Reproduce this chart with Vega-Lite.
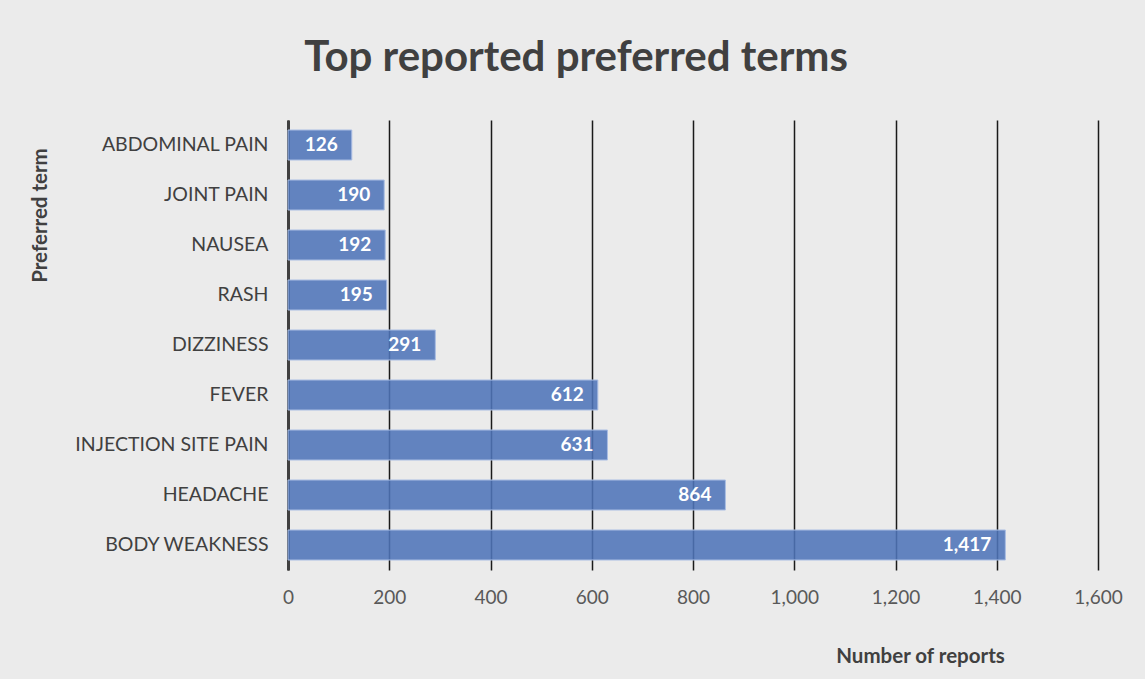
{
  "$schema": "https://vega.github.io/schema/vega-lite/v6.json",
  "autosize": {"type": "none"},
  "padding": {"left": 288, "top": 120, "right": 47, "bottom": 109},
  "width": 810,
  "height": 450,
  "background": "#ebebeb",
  "title": {
    "text": "Top reported preferred terms",
    "font": "Lato",
    "fontSize": 42,
    "fontWeight": "bold",
    "color": "#404040",
    "anchor": "middle",
    "frame": "bounds",
    "offset": 40
  },
  "config": {
    "view": {"stroke": null},
    "font": "Lato"
  },
  "data": {
    "values": [
      {"term": "ABDOMINAL PAIN", "reports": 126},
      {"term": "JOINT PAIN", "reports": 190},
      {"term": "NAUSEA", "reports": 192},
      {"term": "RASH", "reports": 195},
      {"term": "DIZZINESS", "reports": 291},
      {"term": "FEVER", "reports": 612},
      {"term": "INJECTION SITE PAIN", "reports": 631},
      {"term": "HEADACHE", "reports": 864},
      {"term": "BODY WEAKNESS", "reports": 1417}
    ]
  },
  "encoding": {
    "y": {
      "field": "term",
      "type": "nominal",
      "sort": {"field": "reports", "order": "ascending"},
      "scale": {"paddingInner": 0.4, "paddingOuter": 0.2},
      "axis": {
        "title": "Preferred term",
        "titleFont": "Lato",
        "titleFontSize": 20.5,
        "titleFontWeight": "bold",
        "titleColor": "#404040",
        "titleAngle": -90,
        "titleX": -248,
        "titleY": 95,
        "titleAlign": "center",
        "titleBaseline": "middle",
        "labelFont": "Lato",
        "labelFontSize": 19.5,
        "labelColor": "#404040",
        "labelPadding": 20,
        "labelLimit": 400,
        "ticks": false,
        "domain": true,
        "domainColor": "#404040",
        "domainWidth": 3,
        "grid": false
      }
    },
    "x": {
      "field": "reports",
      "type": "quantitative",
      "scale": {"domain": [0, 1600], "nice": false},
      "axis": {
        "title": "Number of reports",
        "titleFont": "Lato",
        "titleFontSize": 20.5,
        "titleFontWeight": "bold",
        "titleColor": "#404040",
        "titleX": 632,
        "titleY": 86,
        "titleAlign": "center",
        "titleBaseline": "middle",
        "values": [0, 200, 400, 600, 800, 1000, 1200, 1400, 1600],
        "format": ",.0f",
        "labelFont": "Lato",
        "labelFontSize": 19,
        "labelColor": "#595959",
        "labelPadding": 18,
        "labelFlush": false,
        "labelOverlap": false,
        "ticks": false,
        "domain": false,
        "grid": true,
        "gridColor": "#1a1a1a",
        "gridWidth": 1.5
      }
    }
  },
  "layer": [
    {
      "mark": {
        "type": "bar",
        "fill": "#4f74b8",
        "fillOpacity": 0.88,
        "stroke": "#a9bde3",
        "strokeWidth": 1
      }
    },
    {
      "mark": {
        "type": "text",
        "align": "right",
        "baseline": "middle",
        "dx": -14,
        "font": "Lato",
        "fontSize": 19,
        "fontWeight": "bold",
        "color": "#ffffff"
      },
      "encoding": {
        "text": {"field": "reports", "type": "quantitative", "format": ","}
      }
    }
  ]
}
